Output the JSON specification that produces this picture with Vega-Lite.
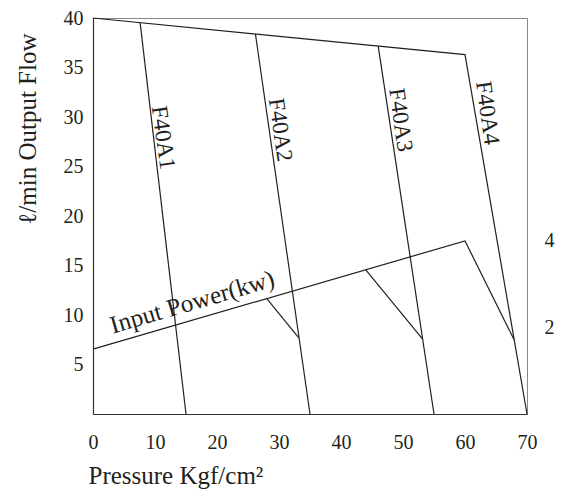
{
  "$schema": "https://vega.github.io/schema/vega-lite/v6.json",
  "autosize": "none",
  "width": 434,
  "height": 396,
  "padding": {"left": 93, "top": 18, "right": 37, "bottom": 78},
  "background": "white",
  "config": {
    "view": {"stroke": "#888888", "strokeWidth": 1},
    "font": "Liberation Serif",
    "axis": {"grid": false, "ticks": false, "tickSize": 0, "labelFlush": false, "labelFont": "Liberation Serif", "titleFont": "Liberation Serif", "labelColor": "#231f20", "titleColor": "#231f20", "labelFontSize": 20, "titleFontSize": 25, "titleFontWeight": "normal", "domainColor": "#333333", "domainWidth": 1.2}
  },
  "datasets": {
    "flow": [
      {"series": "F40A4", "x": 0, "flow": 40, "o": 0},
      {"series": "F40A4", "x": 60, "flow": 36.3, "o": 1},
      {"series": "F40A4", "x": 70, "flow": 0, "o": 2},
      {"series": "F40A1", "x": 7.6, "flow": 39.53, "o": 0},
      {"series": "F40A1", "x": 15, "flow": 0, "o": 1},
      {"series": "F40A2", "x": 26.2, "flow": 38.38, "o": 0},
      {"series": "F40A2", "x": 35, "flow": 0, "o": 1},
      {"series": "F40A3", "x": 46, "flow": 37.16, "o": 0},
      {"series": "F40A3", "x": 55, "flow": 0, "o": 1}
    ],
    "power": [
      {"series": "main", "x": 0, "kw": 1.5, "o": 0},
      {"series": "main", "x": 60, "kw": 4.0, "o": 1},
      {"series": "main", "x": 67.9, "kw": 1.72, "o": 2},
      {"series": "A2", "x": 28, "kw": 2.67, "o": 0},
      {"series": "A2", "x": 33.2, "kw": 1.76, "o": 1},
      {"series": "A3", "x": 44, "kw": 3.33, "o": 0},
      {"series": "A3", "x": 53.1, "kw": 1.74, "o": 1}
    ],
    "labels": [
      {"label": "F40A1", "x": 11.3, "flow": 27.9},
      {"label": "F40A2", "x": 30.2, "flow": 28.7},
      {"label": "F40A3", "x": 49.6, "flow": 29.7},
      {"label": "F40A4", "x": 63.6, "flow": 30.4}
    ],
    "plabel": [
      {"label": "Input Power(kw)", "x": 16.0, "flow": 11.3}
    ]
  },
  "encoding": {
    "x": {
      "field": "x", "type": "quantitative",
      "scale": {"domain": [0, 70], "nice": false, "zero": false},
      "axis": {"values": [0, 10, 20, 30, 40, 50, 60, 70], "labelPadding": 18, "title": "Pressure Kgf/cm²", "titleAlign": "left", "titleAnchor": "start", "titleX": -5, "titleY": 69, "titleBaseline": "alphabetic"}
    }
  },
  "layer": [
    {
      "data": {"name": "flow"},
      "mark": {"type": "line", "color": "#231f20", "strokeWidth": 1.2},
      "encoding": {
        "y": {"field": "flow", "type": "quantitative", "scale": {"domain": [0, 40], "nice": false},
          "axis": {"values": [5, 10, 15, 20, 25, 30, 35, 40], "labelPadding": 10, "title": "ℓ/min Output Flow", "titleAngle": -90, "titleAlign": "right", "titleAnchor": "end", "titleX": -66, "titleY": 15, "titleBaseline": "middle"}},
        "detail": {"field": "series"},
        "order": {"field": "o", "type": "quantitative"}
      }
    },
    {
      "data": {"name": "labels"},
      "mark": {"type": "text", "angle": 82, "align": "center", "baseline": "middle", "fontSize": 23, "font": "Liberation Serif", "color": "#231f20"},
      "encoding": {
        "y": {"field": "flow", "type": "quantitative", "scale": {"domain": [0, 40], "nice": false}, "axis": null},
        "text": {"field": "label"}
      }
    },
    {
      "data": {"name": "plabel"},
      "mark": {"type": "text", "angle": -16.3, "align": "center", "baseline": "middle", "fontSize": 25, "font": "Liberation Serif", "color": "#231f20"},
      "encoding": {
        "y": {"field": "flow", "type": "quantitative", "scale": {"domain": [0, 40], "nice": false}, "axis": null},
        "text": {"field": "label"}
      }
    },
    {
      "data": {"name": "power"},
      "mark": {"type": "line", "color": "#231f20", "strokeWidth": 1.2},
      "encoding": {
        "y": {"field": "kw", "type": "quantitative", "scale": {"domain": [0, 9.15], "nice": false},
          "axis": {"orient": "right", "values": [2, 4], "labelPadding": 17, "title": null, "domain": false}},
        "detail": {"field": "series"},
        "order": {"field": "o", "type": "quantitative"}
      }
    }
  ],
  "resolve": {"scale": {"y": "independent"}, "axis": {"y": "independent"}}
}
